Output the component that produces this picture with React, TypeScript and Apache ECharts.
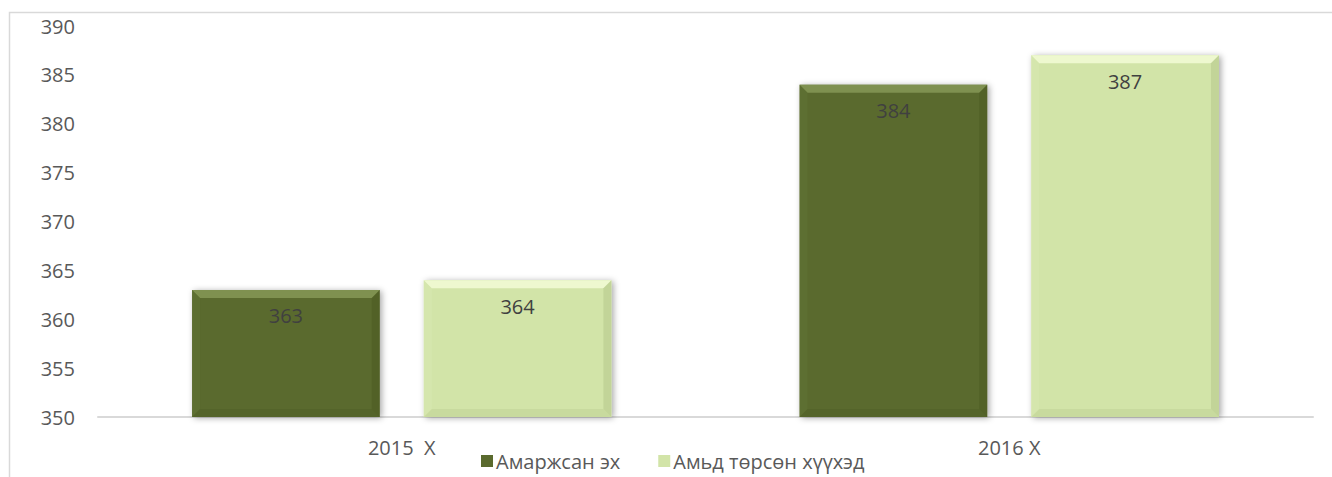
import React, { useEffect, useRef } from "react";
import * as echarts from "echarts";

const categories = ["2015  X", "2016 X"];
const seriesNames = ["Амаржсан эх", "Амьд төрсөн хүүхэд"];
const mothers = [363, 384];
const children = [364, 387];
const yTicks = { min: 350, max: 390, interval: 5 };

const palettes = [
  { main: "#5a6a2e", top: "#7f9150", left: "#65783a", right: "#46551f", bottom: "#4a5a22", label: "#404040" },
  { main: "#d2e4a8", top: "#eef8cf", left: "#dcecb6", right: "#a9bb7f", bottom: "#b6c98c", label: "#404040" },
];

const FONT = "'Open Sans', 'Noto Sans', sans-serif";

function makeRenderItem(idx: number) {
  return (params: any, api: any) => {
    const cat = api.value(0);
    const val = api.value(1);
    const top = api.coord([cat, val]);
    const base = api.coord([cat, yTicks.min]);
    const band = api.size([1, 0])[0];
    const bw = band * 0.309;
    const gap = band * 0.0724;
    const cx = top[0] + (idx === 0 ? -(bw / 2 + gap / 2) : bw / 2 + gap / 2);
    const x = cx - bw / 2;
    const y = top[1];
    const h = base[1] - top[1];
    const b = 8;
    const p = palettes[idx];
    return {
      type: "group",
      children: [
        {
          type: "rect",
          shape: { x, y, width: bw, height: h },
          style: { fill: p.main, shadowBlur: 6, shadowColor: "rgba(0,0,0,0.35)", shadowOffsetX: 2, shadowOffsetY: 1 },
        },
        {
          type: "polygon",
          shape: { points: [[x, y], [x + bw, y], [x + bw - b, y + b], [x + b, y + b]] },
          style: { fill: p.top },
        },
        {
          type: "polygon",
          shape: { points: [[x, y], [x + b, y + b], [x + b, y + h - b], [x, y + h]] },
          style: { fill: p.left, opacity: 0.35 },
        },
        {
          type: "polygon",
          shape: { points: [[x + bw, y], [x + bw, y + h], [x + bw - b, y + h - b], [x + bw - b, y + b]] },
          style: { fill: p.right, opacity: 0.4 },
        },
        {
          type: "polygon",
          shape: { points: [[x, y + h], [x + bw, y + h], [x + bw - b, y + h - b], [x + b, y + h - b]] },
          style: { fill: p.bottom, opacity: 0.35 },
        },
        {
          type: "text",
          style: {
            text: String(val),
            x: cx,
            y: y + 26,
            align: "center",
            verticalAlign: "middle",
            fill: p.label,
            font: `20px ${FONT}`,
          },
        },
      ],
    };
  };
}

export default function App() {
  const ref = useRef<HTMLDivElement>(null);
  useEffect(() => {
    if (!ref.current) return;
    const chart = echarts.init(ref.current, undefined, { renderer: "svg" });
    const toData = (arr: number[]) => arr.map((v, i) => [i, v]);
    chart.setOption({
      animation: false,
      backgroundColor: "#ffffff",
      graphic: [
        {
          type: "rect",
          shape: { x: 9.5, y: 12.5, width: 1400, height: 600 },
          style: { fill: "none", stroke: "#d9d9d9", lineWidth: 1.5 },
          silent: true,
          z: -10,
        },
      ],
      grid: { left: 98, right: 19, top: 26, bottom: 60 },
      legend: {
        left: 481,
        top: 451,
        padding: 0,
        icon: "rect",
        itemWidth: 12,
        itemHeight: 12,
        itemGap: 38,
        textStyle: { color: "#595959", fontSize: 20, lineHeight: 20, fontFamily: FONT, padding: [0, 0, 0, -2] },
        data: seriesNames,
      },
      xAxis: {
        type: "category",
        data: categories,
        axisLine: { lineStyle: { color: "#d9d9d9", width: 2 } },
        axisTick: { show: false },
        axisLabel: { color: "#595959", fontSize: 20, fontFamily: FONT, margin: 20 },
      },
      yAxis: {
        type: "value",
        min: yTicks.min,
        max: yTicks.max,
        interval: yTicks.interval,
        axisLine: { show: false },
        axisTick: { show: false },
        splitLine: { show: false },
        axisLabel: { color: "#595959", fontSize: 20, fontFamily: FONT, margin: 23 },
      },
      series: [
        {
          name: seriesNames[0],
          type: "custom",
          renderItem: makeRenderItem(0),
          itemStyle: { color: palettes[0].main },
          encode: { x: 0, y: 1 },
          data: toData(mothers),
          z: 3,
        },
        {
          name: seriesNames[1],
          type: "custom",
          renderItem: makeRenderItem(1),
          itemStyle: { color: palettes[1].main },
          encode: { x: 0, y: 1 },
          data: toData(children),
          z: 3,
        },
      ],
    });
    return () => chart.dispose();
  }, []);
  return <div ref={ref} style={{ position: "fixed", left: 0, top: 0, width: 1332, height: 477 }} />;
}
